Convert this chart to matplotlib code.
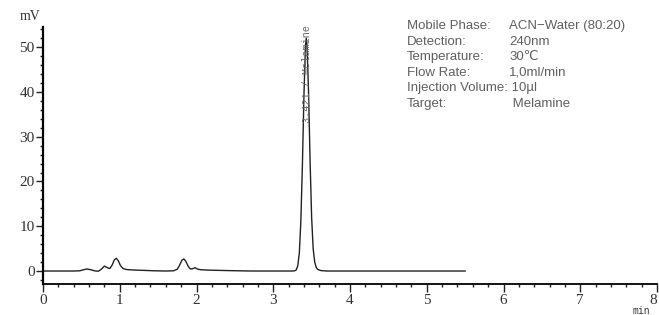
import matplotlib
matplotlib.use("Agg")
import matplotlib.pyplot as plt
from matplotlib.ticker import MultipleLocator

# chromatogram trace (time in min, signal in mV)
time_min = [0.00, 0.40, 0.48, 0.52, 0.57, 0.62, 0.67, 0.72, 0.76, 0.80,
            0.83, 0.87, 0.90, 0.93, 0.955, 0.98, 1.01, 1.04, 1.08, 1.15,
            1.30, 1.45, 1.60, 1.70, 1.75, 1.78, 1.81, 1.835, 1.86, 1.89,
            1.92, 1.95, 1.98, 2.01, 2.05, 2.15, 2.40, 2.70, 3.25, 3.28,
            3.30, 3.32, 3.34, 3.36, 3.38, 3.40, 3.42, 3.43, 3.44, 3.46,
            3.48, 3.50, 3.52, 3.54, 3.56, 3.58, 3.62, 3.70, 5.50]
signal_mv = [0.0, 0.0, 0.05, 0.25, 0.45, 0.3, 0.05, -0.05, 0.4, 1.1,
             0.8, 0.55, 1.3, 2.5, 2.85, 2.3, 1.2, 0.6, 0.35, 0.25,
             0.15, 0.05, 0.0, 0.05, 0.4, 1.3, 2.4, 2.7, 2.2, 1.1,
             0.45, 0.5, 0.75, 0.45, 0.3, 0.2, 0.1, 0.0, 0.0, 0.05,
             0.25, 1.2, 4.1, 11.3, 23.8, 39.3, 50.4, 52.0, 50.4, 40.0,
             24.5, 12.0, 5.0, 2.0, 0.8, 0.35, 0.1, 0.0, 0.0]

peak_rt = 3.421
peak_name = "Melamine"

x_ticks = [0, 1, 2, 3, 4, 5, 6, 7, 8]
y_ticks = [0, 10, 20, 30, 40, 50]

info_keys = ["Mobile Phase:", "Detection:", "Temperature:", "Flow Rate:",
             "Injection Volume:", "Target:"]
info_vals = ["ACN\u2212Water (80:20)", "240nm", "30\u2103", "1,0ml/min",
             "10\u00b5l", " Melamine"]

sans = ["Liberation Sans", "DejaVu Sans"]

fig = plt.figure(figsize=(6.59, 3.15), dpi=100)
ax = fig.add_axes([43 / 659, 31 / 315, 614 / 659, 257 / 315])

ax.plot(time_min, signal_mv, color="#222222", lw=1.0)

ax.set_xlim(0, 8)
ax.set_ylim(-2.9, 54.5)
ax.set_xticks(x_ticks)
ax.set_yticks(y_ticks)
ax.xaxis.set_minor_locator(MultipleLocator(0.2))
ax.yaxis.set_minor_locator(MultipleLocator(2))

for s in ["top", "right"]:
    ax.spines[s].set_visible(False)
ax.spines["left"].set_linewidth(1.6)
ax.spines["bottom"].set_linewidth(1.3)

ax.tick_params(axis="y", which="major", direction="out", length=5, width=1.0,
               colors="#222222", labelcolor="#333333", labelsize=11, pad=1)
ax.tick_params(axis="x", which="major", direction="out", length=6, width=1.0,
               colors="#222222", labelcolor="#333333", labelsize=11, pad=1)
ax.tick_params(axis="both", which="minor", direction="out", length=2.5, width=1.0,
               colors="#222222")
fig.canvas.draw()
for lab in ax.get_xticklabels() + ax.get_yticklabels():
    lab.set_family("Liberation Serif")
for lab in ax.get_xticklabels():
    if lab.get_text() == "8":
        lab.set_ha("right")

fig.text(20 / 659, 1 - 16 / 315, "mV", family="Liberation Serif", fontsize=10,
         color="#333333", ha="left", va="center")
fig.text(641 / 659, 1 - 311 / 315, "min", family="Liberation Mono", fontsize=7,
         color="#333333", ha="center", va="center")

ax.text(peak_rt + 0.02, 33, f"{peak_rt:.3f} / {peak_name}", rotation=90,
        family="Liberation Mono", fontsize=7.3, color="#666666",
        ha="center", va="bottom", clip_on=False)

for i, (k, v) in enumerate(zip(info_keys, info_vals)):
    y = 1 - (26 + i * 15.6) / 315
    if k == "Injection Volume:":
        fig.text(407 / 659, y, k + " " + v, family=sans, fontsize=9.5,
                 color="#606060", ha="left", va="center")
    else:
        fig.text(407 / 659, y, k, family=sans, fontsize=9.5,
                 color="#606060", ha="left", va="center")
        fig.text(509 / 659, y, v, family=sans, fontsize=9.5,
                 color="#606060", ha="left", va="center")

fig.savefig("out.png", dpi=100)
